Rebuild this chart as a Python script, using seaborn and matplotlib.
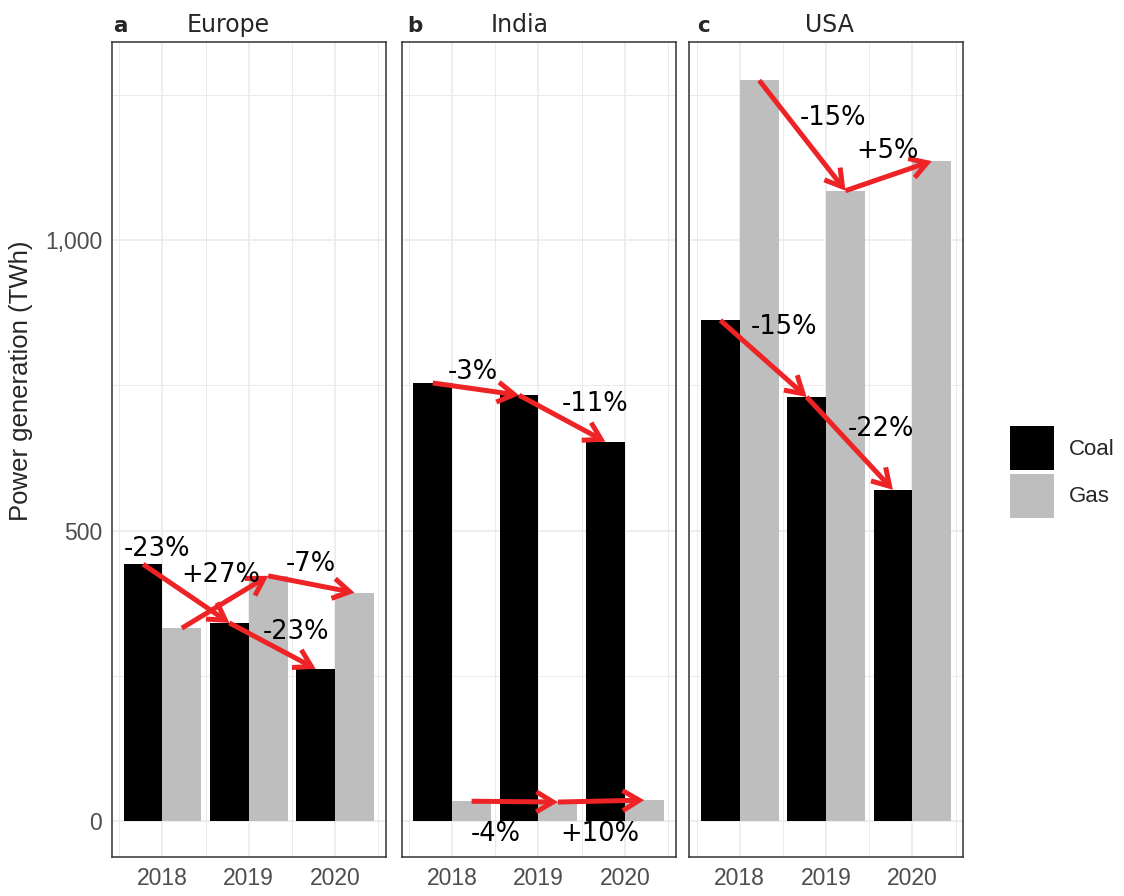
import numpy as np
import pandas as pd
import matplotlib
matplotlib.use("Agg")
import matplotlib.pyplot as plt
from matplotlib.patches import Patch
from matplotlib.ticker import FuncFormatter
import seaborn as sns

# ---- data (TWh) ----
regions = ["Europe", "India", "USA"]
panel_tags = ["a", "b", "c"]
years = ["2018", "2019", "2020"]
fuels = ["Coal", "Gas"]

europe_coal = [442, 341, 262]
europe_gas = [332, 422, 393]
india_coal = [754, 733, 653]
india_gas = [34.0, 32.6, 35.9]
usa_coal = [862, 730, 570]
usa_gas = [1275, 1085, 1136]

# label anchor points (x in year-index units, y in TWh) for the change labels
europe_coal_lab = [(-0.06, 468), (1.55, 325)]
europe_gas_lab = [(0.68, 423), (1.72, 442)]
india_coal_lab = [(0.24, 773), (1.66, 718)]
india_gas_lab = [(0.51, -22), (1.71, -22)]
usa_coal_lab = [(0.51, 850), (1.63, 675)]
usa_gas_lab = [(1.08, 1210), (1.71, 1153)]

series = {
    "Europe": {"Coal": europe_coal, "Gas": europe_gas},
    "India": {"Coal": india_coal, "Gas": india_gas},
    "USA": {"Coal": usa_coal, "Gas": usa_gas},
}
label_pos = {
    "Europe": {"Coal": europe_coal_lab, "Gas": europe_gas_lab},
    "India": {"Coal": india_coal_lab, "Gas": india_gas_lab},
    "USA": {"Coal": usa_coal_lab, "Gas": usa_gas_lab},
}

rows = []
for r in regions:
    for f in fuels:
        for y, v in zip(years, series[r][f]):
            rows.append({"region": r, "fuel": f, "year": y, "value": v})
df = pd.DataFrame(rows)

# ---- style ----
sns.set_style("white")
plt.rcParams["font.family"] = ["Liberation Sans", "DejaVu Sans"]

W, H = 1124, 896
fig = plt.figure(figsize=(W / 100, H / 100), dpi=100)

palette = {"Coal": "#000000", "Gas": "#BEBEBE"}
red = "#EE2326"
frame = "#333333"
gridc = "#EBEBEB"

lefts = [112, 401.7, 689.3]
pw = 274
top_px, bot_px = 42, 857
bar_w = 0.9
offset = {"Coal": -bar_w / 4, "Gas": bar_w / 4}

axes = []
for i, r in enumerate(regions):
    ax = fig.add_axes([lefts[i] / W, 1 - bot_px / H, pw / W, (bot_px - top_px) / H])
    axes.append(ax)
    sub = df[df.region == r]
    sns.barplot(data=sub, x="year", y="value", hue="fuel", hue_order=fuels,
                order=years, palette=palette, width=bar_w, gap=0,
                saturation=1, linewidth=0, errorbar=None, legend=False, ax=ax)
    ax.set_xlim(-0.585, 2.59)
    ax.set_ylim(-62, 1341)

    ax.set_axisbelow(True)
    ax.set_xticks([0, 1, 2])
    ax.set_xticklabels(years)
    ax.set_xticks([-0.5, 0.5, 1.5, 2.5], minor=True)
    ax.set_yticks([0, 500, 1000])
    ax.set_yticks([250, 750, 1250], minor=True)
    ax.grid(which="major", color=gridc, lw=1.2)
    ax.grid(which="minor", color=gridc, lw=0.7)
    ax.tick_params(which="minor", length=0)
    ax.tick_params(which="major", direction="out", length=4, width=1.1,
                   color=frame, labelcolor="#4D4D4D", labelsize=16.5, pad=3)
    ax.yaxis.set_major_formatter(FuncFormatter(lambda v, p: f"{v:,.0f}"))
    if i > 0:
        ax.tick_params(axis="y", which="major", length=0, labelleft=False)
    ax.set_xlabel("")
    ax.set_ylabel("")
    for s in ax.spines.values():
        s.set_color(frame)
        s.set_linewidth(1.1)

    # change arrows and percentage labels
    for f in fuels:
        vals = series[r][f]
        for k in range(len(vals) - 1):
            x0 = k + offset[f]
            x1 = k + 1 + offset[f]
            ax.annotate("", xy=(x1, vals[k + 1]), xytext=(x0, vals[k]),
                        arrowprops=dict(arrowstyle="->,head_length=0.6,head_width=0.36",
                                        color=red, lw=3.6, shrinkA=0, shrinkB=0,
                                        mutation_scale=20, capstyle="butt",
                                        joinstyle="miter"),
                        zorder=5)
            pct = (vals[k + 1] / vals[k] - 1) * 100
            txt = f"{pct:+.0f}%"
            lx, ly = label_pos[r][f][k]
            ax.text(lx, ly, txt, ha="center", va="center", fontsize=18.5,
                    family="DejaVu Sans", color="black", zorder=6)

# panel tags and titles
tag_x = [113, 407, 697]
title_x = [228.5, 520, 829]
for i, r in enumerate(regions):
    fig.text(tag_x[i] / W, 1 - 32 / H, panel_tags[i], ha="left", va="baseline",
             fontsize=15.5, fontweight="bold", family="DejaVu Sans")
    fig.text(title_x[i] / W, 1 - 32 / H, r, ha="center", va="baseline",
             fontsize=17, family="DejaVu Sans")

fig.text(21 / W, 1 - 381 / H, "Power generation (TWh)", rotation=90,
         ha="center", va="center", fontsize=18.5)

handles = [Patch(facecolor=palette[f], edgecolor="none", label=f) for f in fuels]
fig.legend(handles=handles, loc="center left",
           bbox_to_anchor=(1010 / W, 1 - 472 / H), frameon=False,
           fontsize=16, handlelength=2.0, handleheight=2.7,
           handletextpad=0.65, labelspacing=0.14, borderpad=0,
           borderaxespad=0)

fig.savefig("out.png", dpi=100)
